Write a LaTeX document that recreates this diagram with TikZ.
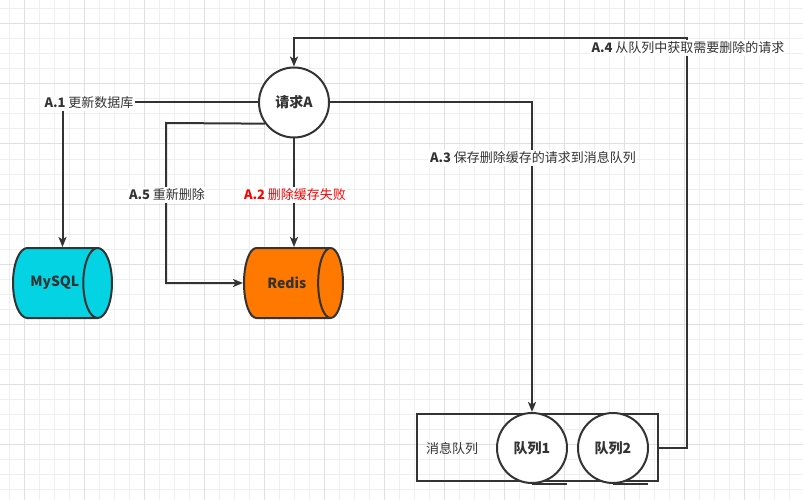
\documentclass[tikz,border=0pt]{standalone}
\usepackage{fontspec}
\setmainfont{Noto Sans CJK SC}
\usepackage{tikz}
\usetikzlibrary{arrows.meta,shapes.geometric}

\definecolor{ink}{HTML}{333333}
\definecolor{gridmin}{HTML}{EFEFEF}
\definecolor{gridmaj}{HTML}{E0E0E0}
\definecolor{dbcyan}{HTML}{03D3E3}
\definecolor{dborange}{HTML}{FF7800}

\begin{document}
\begin{tikzpicture}[
  x=1pt, y=-1pt, font=\fontsize{13}{15}\selectfont, text=ink,
  >={Stealth[length=10pt,width=8pt,inset=2.5pt]},
  a/.style={->, line width=2pt, draw=ink},
  db/.style={cylinder, draw=ink, line width=2pt, aspect=2.1,
             minimum width=70, minimum height=99, inner sep=0pt,
             font=\fontsize{14}{16}\selectfont\bfseries},
  circ/.style={circle, draw=ink, line width=2pt, fill=white,
               minimum size=70, inner sep=0pt,
               font=\fontsize{14}{16}\selectfont\bfseries},
  lbl/.style={fill=white, inner sep=1.5pt},
]
\useasboundingbox (0,0) rectangle (803,500);

% grid background
\fill[white] (0,0) rectangle (803,500);
\foreach \g in {9,24,...,803} {
  \draw[gridmin, line width=1pt] (\g,0) -- (\g,500);
}
\foreach \g in {9,24,...,500} {
  \draw[gridmin, line width=1pt] (0,\g) -- (803,\g);
}
\foreach \g in {24,84,...,803} {
  \draw[gridmaj, line width=1pt] (\g,0) -- (\g,500);
}
\foreach \g in {24,84,...,500} {
  \draw[gridmaj, line width=1pt] (0,\g) -- (803,\g);
}

% request and the two stores
\node[circ] (reqA) at (294,102.5) {请求A};
\node[db, fill=dbcyan, anchor=shape center] (mysql) at (62.5,283) {MySQL};
\node[db, fill=dborange, anchor=shape center] (redis) at (293.5,283) {Redis};

% message queue
\node[draw=ink, line width=2pt, minimum width=241, minimum height=67,
      inner sep=0pt] (mq) at (537.5,447.5) {};
\node (mqtxt) at (452,449) {消息队列};
\node[circ] (q1) at (532,448) {队列1};
\node[circ] (q2) at (613,448) {队列2};
\draw[ink, line width=2pt] (q1.south) -- ++(35,0);
\draw[ink, line width=2pt] (q2.south) -- ++(35,0);

\coordinate (c5) at (166,123);
\coordinate (c4) at (687,38);

% connectors
\draw[a] (reqA.west) -| (mysql.shape center |- mysql.north);
\draw[a] (reqA.south) -- (reqA.south |- redis.north);
\draw[a] (reqA.216) -- (c5) |- (redis.west);
\draw[a] (reqA.east) -| (q1.north);
\draw[a] (mq.east) -| (c4) -| (reqA.north);

% labels on the lines
\node[lbl] (l1) at (89,103) {{\bfseries A.1} 更新数据库};
\node[lbl, text=red] (l2) at (295,195) {{\bfseries A.2} 删除缓存失败};
\node[lbl] (l5) at (167,195) {{\bfseries A.5} 重新删除};
\node[lbl] (l3) at (533,158) {{\bfseries A.3} 保存删除缓存的请求到消息队列};
\node[lbl] (l4) at (688,48) {{\bfseries A.4} 从队列中获取需要删除的请求};
\end{tikzpicture}
\end{document}
